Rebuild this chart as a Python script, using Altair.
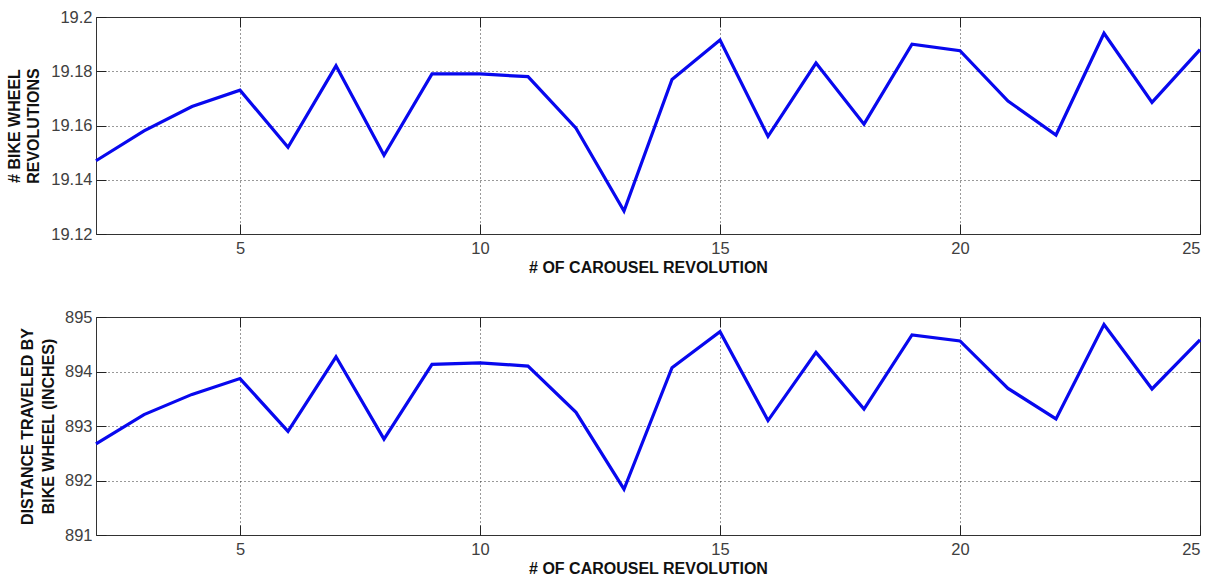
import altair as alt
import pandas as pd

carousel_rev = list(range(2, 26))
bike_wheel_revs = [19.147, 19.158, 19.167, 19.173, 19.152, 19.182, 19.149, 19.179,
                   19.179, 19.178, 19.159, 19.1285, 19.177, 19.1915, 19.156, 19.183,
                   19.1605, 19.190, 19.1876, 19.169, 19.1565, 19.194, 19.1685, 19.188]
distance_in = [892.67, 893.21, 893.58, 893.87, 892.90, 894.27, 892.76, 894.13,
               894.16, 894.10, 893.25, 891.84, 894.07, 894.73, 893.10, 894.35,
               893.31, 894.67, 894.56, 893.69, 893.13, 894.86, 893.68, 894.58]

x_ticks = [5, 10, 15, 20, 25]
top_y_ticks = [19.12, 19.14, 19.16, 19.18, 19.2]
bot_y_ticks = [891, 892, 893, 894, 895]
x_title = "# OF CAROUSEL REVOLUTION"
top_y_title = ["# BIKE WHEEL", "REVOLUTIONS"]
bot_y_title = ["DISTANCE TRAVELED BY", "BIKE WHEEL (INCHES)"]

TICK = 10
GRID = dict(grid=True, gridDash=[1, 3], gridColor="#333333", gridOpacity=1, gridWidth=1)


def panel(values, ytitle, ydomain, yticks, yfmt, height, tpad, tlh):
    df = pd.DataFrame({"rev": carousel_rev, "val": values})
    base = alt.Chart(df)
    xs = alt.Scale(domain=[2, 25], nice=False, zero=False)
    ys = alt.Scale(domain=ydomain, nice=False, zero=False)
    main = base.mark_line(color="#0808ee", strokeWidth=3.2).encode(
        x=alt.X("rev:Q", scale=xs, axis=alt.Axis(
            values=x_ticks, orient="bottom", offset=-TICK, tickSize=TICK, domain=False,
            labelPadding=6, title=x_title, titlePadding=3, **GRID)),
        y=alt.Y("val:Q", scale=ys, axis=alt.Axis(
            values=yticks, format=yfmt, orient="left", offset=-TICK, tickSize=TICK,
            domain=False, labelPadding=4, title=ytitle, titlePadding=tpad,
            titleLineHeight=tlh, **GRID)),
    )
    ghost = base.mark_line(strokeOpacity=0).encode(
        x=alt.X("rev:Q", scale=xs, axis=alt.Axis(
            values=x_ticks, orient="top", offset=-TICK, tickSize=TICK, domain=False,
            labels=False, title=None, grid=False)),
        y=alt.Y("val:Q", scale=ys, axis=alt.Axis(
            values=yticks, orient="right", offset=-TICK, tickSize=TICK, domain=False,
            labels=False, title=None, grid=False)),
    )
    return alt.layer(main, ghost).resolve_axis(x="independent", y="independent").properties(
        width=1104, height=height)


top = panel(bike_wheel_revs, top_y_title, [19.12, 19.2], top_y_ticks, ".2~f", 217, 9, 19.5)
bottom = panel(distance_in, bot_y_title, [891, 895], bot_y_ticks, "d", 218, 8, 21)

chart = alt.vconcat(top, bottom, spacing=32).configure(
    padding={"left": 5, "top": 8, "right": 5, "bottom": 2},
    background="white",
).configure_view(
    stroke="#333333", strokeWidth=1
).configure_axis(
    labelFont="Liberation Sans", labelFontSize=16.5, labelColor="#404040",
    titleFont="Liberation Sans", titleFontSize=16, titleFontWeight="bold",
    titleColor="#111111", tickColor="#222222", tickWidth=1,
)

chart.save("out.html", embed_options={"renderer": "svg", "actions": False})
